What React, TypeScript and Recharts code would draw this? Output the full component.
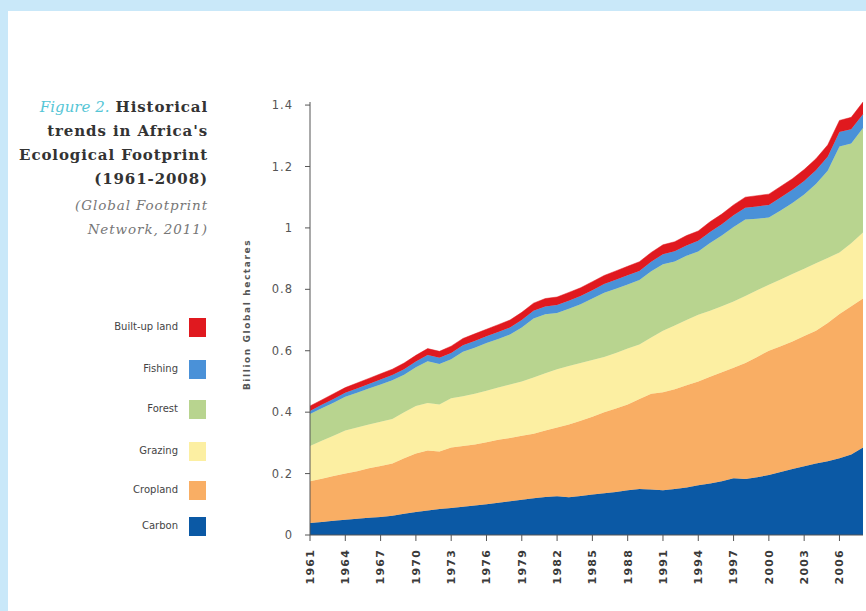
import React from "react";
import { Area, AreaChart, Label, XAxis, YAxis } from "recharts";

const YEARS = [
  1961, 1962, 1963, 1964, 1965, 1966, 1967, 1968, 1969, 1970, 1971, 1972, 1973, 1974, 1975, 1976,
  1977, 1978, 1979, 1980, 1981, 1982, 1983, 1984, 1985, 1986, 1987, 1988, 1989, 1990, 1991, 1992,
  1993, 1994, 1995, 1996, 1997, 1998, 1999, 2000, 2001, 2002, 2003, 2004, 2005, 2006, 2007, 2008,
];

// billion global hectares, per component (stacked bottom -> top)
const CARBON = [
  0.039, 0.042, 0.046, 0.05, 0.053, 0.056, 0.059, 0.063, 0.069, 0.075, 0.08, 0.085, 0.088, 0.092,
  0.096, 0.1, 0.105, 0.11, 0.115, 0.12, 0.124, 0.126, 0.123, 0.127, 0.132, 0.136, 0.14, 0.146,
  0.15, 0.148, 0.146, 0.15, 0.155, 0.162, 0.168, 0.175, 0.185, 0.182, 0.188, 0.195, 0.205, 0.215,
  0.224, 0.233, 0.24, 0.25, 0.262, 0.285,
];
const CROPLAND = [
  0.136, 0.141, 0.146, 0.15, 0.155, 0.161, 0.166, 0.17, 0.181, 0.19, 0.195, 0.187, 0.197, 0.198,
  0.199, 0.202, 0.205, 0.206, 0.208, 0.21, 0.216, 0.224, 0.237, 0.245, 0.253, 0.264, 0.272, 0.279,
  0.293, 0.312, 0.319, 0.325, 0.333, 0.338, 0.347, 0.355, 0.36, 0.378, 0.392, 0.405, 0.41, 0.415,
  0.424, 0.432, 0.45, 0.47, 0.483, 0.485,
];
const GRAZING = [
  0.115, 0.124, 0.131, 0.14, 0.142, 0.143, 0.144, 0.145, 0.15, 0.155, 0.155, 0.153, 0.16, 0.162,
  0.165, 0.168, 0.17, 0.174, 0.177, 0.183, 0.187, 0.19, 0.19, 0.188, 0.185, 0.18, 0.181, 0.182,
  0.177, 0.183, 0.2, 0.207, 0.212, 0.217, 0.215, 0.215, 0.215, 0.218, 0.217, 0.215, 0.217, 0.22,
  0.219, 0.22, 0.212, 0.2, 0.205, 0.215,
];
const FOREST = [
  0.104, 0.106, 0.108, 0.11, 0.113, 0.117, 0.121, 0.126, 0.122, 0.126, 0.136, 0.132, 0.127, 0.145,
  0.15, 0.155, 0.158, 0.163, 0.176, 0.192, 0.192, 0.183, 0.187, 0.191, 0.2, 0.209, 0.209, 0.209,
  0.21, 0.216, 0.217, 0.209, 0.209, 0.206, 0.221, 0.23, 0.243, 0.249, 0.233, 0.219, 0.225, 0.231,
  0.242, 0.258, 0.284, 0.345, 0.325, 0.34,
];
const FISHING = [
  0.01, 0.011, 0.012, 0.013, 0.014, 0.015, 0.016, 0.017, 0.018, 0.019, 0.02, 0.02, 0.021, 0.021,
  0.022, 0.022, 0.023, 0.023, 0.024, 0.025, 0.025, 0.026, 0.026, 0.027, 0.027, 0.028, 0.029, 0.03,
  0.03, 0.031, 0.032, 0.033, 0.034, 0.035, 0.036, 0.037, 0.038, 0.039, 0.04, 0.041, 0.042, 0.043,
  0.044, 0.045, 0.046, 0.047, 0.046, 0.045,
];
const BUILT_UP = [
  0.016, 0.016, 0.017, 0.017, 0.018, 0.018, 0.019, 0.019, 0.02, 0.02, 0.021, 0.021, 0.022, 0.022,
  0.023, 0.023, 0.024, 0.024, 0.025, 0.025, 0.026, 0.026, 0.027, 0.027, 0.028, 0.028, 0.029, 0.029,
  0.03, 0.03, 0.031, 0.031, 0.032, 0.032, 0.033, 0.033, 0.034, 0.034, 0.035, 0.035, 0.036, 0.036,
  0.037, 0.037, 0.038, 0.038, 0.039, 0.04,
];

const Y_TICKS = [0, 0.2, 0.4, 0.6, 0.8, 1, 1.2, 1.4];
const X_TICKS = [1961, 1964, 1967, 1970, 1973, 1976, 1979, 1982, 1985, 1988, 1991, 1994, 1997, 2000, 2003, 2006];

const SERIES = [
  { key: "carbon", name: "Carbon", color: "#0b59a5" },
  { key: "cropland", name: "Cropland", color: "#f9ae64" },
  { key: "grazing", name: "Grazing", color: "#fcefa2" },
  { key: "forest", name: "Forest", color: "#b8d48f" },
  { key: "fishing", name: "Fishing", color: "#4a91d8" },
  { key: "builtup", name: "Built-up land", color: "#e0191f" },
];

const data = YEARS.map((year, i) => ({
  year,
  carbon: CARBON[i],
  cropland: CROPLAND[i],
  grazing: GRAZING[i],
  forest: FOREST[i],
  fishing: FISHING[i],
  builtup: BUILT_UP[i],
}));

const SANS = "'DejaVu Sans', Arial, sans-serif";
const SERIF = "'DejaVu Serif', Georgia, serif";

function YearTick({ x, y, payload }: any) {
  const ty = y + 6;
  return (
    <text
      x={x}
      y={ty}
      dy="0.35em"
      transform={`rotate(-90 ${x} ${ty})`}
      textAnchor="end"
      fill="#3a3a3a"
      fontSize={11}
      letterSpacing={1.2}
      fontFamily={SANS}
      fontWeight="bold"
    >
      {payload.value}
    </text>
  );
}

function TitleBlock() {
  const bold = { fontFamily: SERIF, fontWeight: 700, fontSize: 15, letterSpacing: 0.9, color: "#333" };
  const ital = { fontFamily: SERIF, fontStyle: "italic", fontSize: 13.5, letterSpacing: 0.9, color: "#777" };
  return (
    <div style={{ position: "absolute", left: 0, top: 95, width: 208, textAlign: "right", lineHeight: "24px" }}>
      <div style={bold}>
        <span style={{ fontStyle: "italic", fontWeight: 400, color: "#55c6d6", letterSpacing: 0 }}>Figure 2.</span> Historical
      </div>
      <div style={bold}>trends in Africa's</div>
      <div style={bold}>Ecological Footprint</div>
      <div style={bold}>(1961-2008)</div>
      <div style={{ ...ital, marginTop: 2 }}>(Global Footprint</div>
      <div style={ital}>Network, 2011)</div>
    </div>
  );
}

function LegendBlock() {
  const items = [...SERIES].reverse();
  const tops = [328, 370, 410, 452, 491, 527];
  return (
    <>
      {items.map((s, i) => (
        <div key={s.key} style={{ position: "absolute", left: 60, top: tops[i] - 10, width: 150, height: 20 }}>
          <span
            style={{
              position: "absolute",
              right: 32,
              top: 3,
              fontFamily: SANS,
              fontSize: 10,
              color: "#444",
              whiteSpace: "nowrap",
            }}
          >
            {s.name}
          </span>
          <span style={{ position: "absolute", left: 129, top: 0, width: 17, height: 19, background: s.color }} />
        </div>
      ))}
    </>
  );
}

export default function App() {
  return (
    <div style={{ position: "fixed", left: 0, top: 0, width: 866, height: 611, background: "#c9e8f9", overflow: "hidden" }}>
      <div style={{ position: "absolute", left: 8, top: 11, right: 0, bottom: 0, background: "#fff" }} />
      <TitleBlock />
      <LegendBlock />
      <div style={{ position: "absolute", left: 230, top: 90 }}>
        <AreaChart width={636} height={521} data={data} margin={{ top: 12, right: 3, left: 0, bottom: 16 }}>
          <XAxis
            dataKey="year"
            type="number"
            domain={[1961, 2008]}
            ticks={X_TICKS}
            interval={0}
            height={60}
            tickSize={6}
            tick={<YearTick />}
            stroke="#555"
            tickLine={{ stroke: "#555" }}
          />
          <YAxis
            type="number"
            domain={[0, 1.4]}
            ticks={Y_TICKS}
            width={80}
            tickSize={5}
            tickMargin={12}
            stroke="#555"
            tick={{ fill: "#555", fontSize: 11.5, fontFamily: SANS, letterSpacing: 1 }}
            tickFormatter={(v: number) => String(Math.round(v * 10) / 10)}
          >
            <Label
              content={(p: any) => {
                const vb = p.viewBox || { x: 0, y: 0, height: 0 };
                const cx = vb.x + 17;
                const cy = vb.y + vb.height / 2 - 4;
                return (
                  <text
                    x={cx}
                    y={cy}
                    transform={`rotate(-90 ${cx} ${cy})`}
                    textAnchor="middle"
                    dy="0.35em"
                    fontSize={9}
                    fontWeight="bold"
                    letterSpacing={1.6}
                    fontFamily={SANS}
                    fill="#555"
                  >
                    Billion Global hectares
                  </text>
                );
              }}
            />
          </YAxis>
          {SERIES.map((s) => (
            <Area
              key={s.key}
              type="linear"
              dataKey={s.key}
              name={s.name}
              stackId="ef"
              stroke={s.color}
              strokeWidth={0.5}
              fill={s.color}
              fillOpacity={1}
              isAnimationActive={false}
            />
          ))}
        </AreaChart>
      </div>
    </div>
  );
}
